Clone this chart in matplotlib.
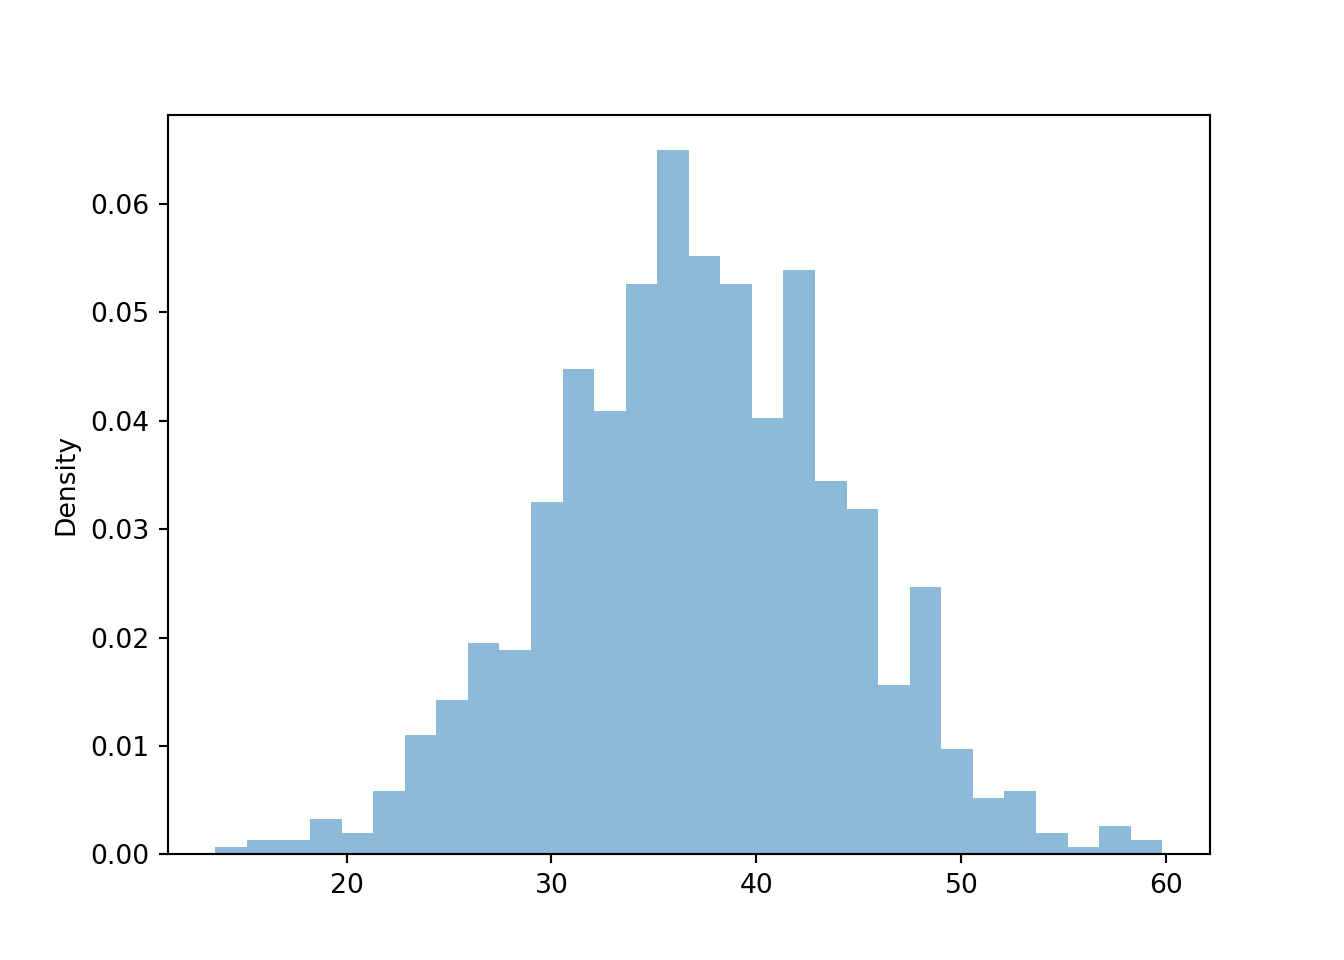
import numpy as np
import matplotlib
matplotlib.use('Agg')
import matplotlib.pyplot as plt

# bin range and counts (1000 samples, 30 bins)
lo, hi = 13.6, 59.8
counts = [1, 2, 2, 5, 3, 9, 17, 22, 30, 29,
          50, 69, 63, 81, 100, 85, 81, 62, 83, 53,
          49, 24, 38, 15, 8, 9, 3, 1, 4, 2]

edges = np.linspace(lo, hi, len(counts) + 1)
centers = (edges[:-1] + edges[1:]) / 2

fig = plt.figure(figsize=(7, 5), dpi=192)
plt.hist(centers, bins=edges, weights=counts, density=True, alpha=0.5)
plt.ylabel('Density')
plt.savefig('out.png', dpi=192)
